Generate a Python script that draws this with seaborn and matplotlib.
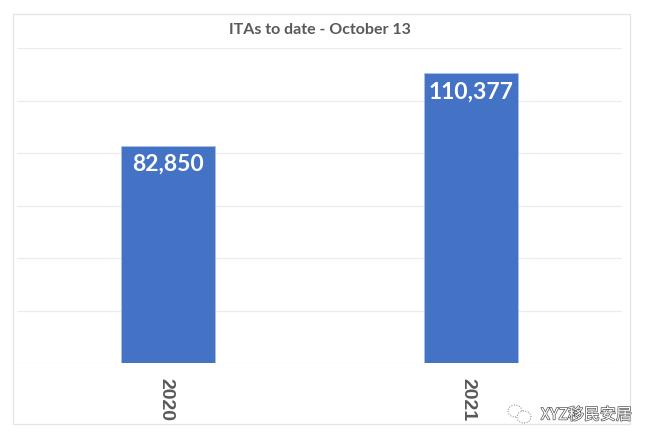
import matplotlib
matplotlib.use('Agg')
import matplotlib.pyplot as plt
import matplotlib.patheffects as pe
from matplotlib.patches import Rectangle, Ellipse
from matplotlib.transforms import ScaledTranslation
import pandas as pd
import seaborn as sns

years = ['2020', '2021']
itas = [82850, 110377]
value_labels = ['82,850', '110,377']
title = 'ITAs to date - October 13'
watermark = 'XYZ移民安居'

W, H = 650, 443

sns.set_theme(style='whitegrid')
plt.rcParams['font.family'] = ['Lato', 'DejaVu Sans']

df = pd.DataFrame({'year': years, 'itas': itas})

fig = plt.figure(figsize=(W / 100, H / 100), dpi=100, facecolor='white')

# chart frame, kept behind the axes
fig.add_artist(Rectangle((12.5 / W, 1 - 424 / H), 617.5 / W, 410 / H, transform=fig.transFigure,
                         facecolor='white', edgecolor='#e4e4e4', linewidth=0.9, zorder=-1))

ax = fig.add_axes([17 / W, 1 - 363 / H, 605 / W, 315 / H])
ax.patch.set_alpha(0)
sns.barplot(data=df, x='year', y='itas', color='#4472c4', width=0.31, saturation=1,
            edgecolor='#a9c1e6', linewidth=0.6, ax=ax)

ax.set_xlim(-0.5, 1.5)
ax.set_ylim(0, 120000)
ax.set_yticks(range(0, 120001, 20000))
ax.set_yticklabels([])
ax.set_xlabel('')
ax.set_ylabel('')
ax.grid(axis='y', color='#ececec', linewidth=0.9)
ax.grid(axis='x', visible=False)
ax.set_axisbelow(True)
for s in ax.spines.values():
    s.set_visible(False)
ax.tick_params(axis='y', length=0)
ax.tick_params(axis='x', length=0, pad=11, labelfontfamily='Liberation Sans',
               labelsize=14, labelcolor='#595959', labelrotation=270)
shift = ScaledTranslation(-2.5 / 100, 0, fig.dpi_scale_trans)
for lab in ax.get_xticklabels():
    lab.set_fontweight('bold')
    lab.set_transform(lab.get_transform() + shift)

for i, v in enumerate(itas):
    ax.annotate(value_labels[i], (i, v), xytext=(0, -6), textcoords='offset points',
                ha='center', va='top', color='white', fontsize=16.5, fontweight='bold')

fig.text(320 / W, 1 - 30 / H, title, ha='center', va='center', fontsize=11.5,
         fontweight='bold', color='#595959')

# watermark
fig.text(632 / W, 1 - 415 / H, watermark, ha='right', va='center', fontsize=11.5,
         family=['Noto Sans CJK SC', 'DejaVu Sans'], color='white', style='italic',
         path_effects=[pe.withStroke(linewidth=1.0, foreground='#555555')])
for cx, cy, rx, ry in [(515, 411, 7, 6), (524, 417, 7, 6)]:
    fig.add_artist(Ellipse((cx / W, 1 - cy / H), 2 * rx / W, 2 * ry / H, transform=fig.transFigure,
                           facecolor='white', edgecolor='#777777', linewidth=0.7, linestyle=':', zorder=5))

fig.savefig('out.png', dpi=100)
